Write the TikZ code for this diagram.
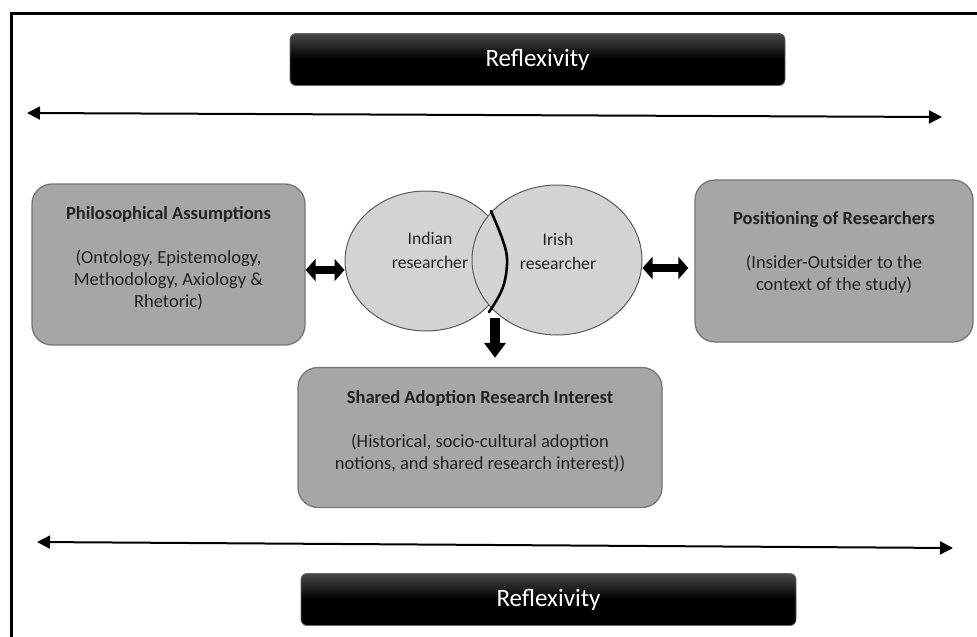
\documentclass[tikz,border=0pt]{standalone}
\usepackage{fontspec}
\setmainfont{Carlito}
\usetikzlibrary{arrows.meta,shapes.geometric,calc}
\definecolor{boxfill}{HTML}{A6A6A6}
\definecolor{boxline}{HTML}{767676}
\definecolor{vennfill}{HTML}{D3D3D3}
\definecolor{vennline}{HTML}{5A5A5A}
\definecolor{txt}{HTML}{222222}
\begin{document}
\begin{tikzpicture}[x=1pt,y=-1pt,
  reflbox/.style={rounded corners=6pt, draw=black!60, line width=0.8pt,
    top color=black!72, bottom color=black, middle color=black,
    minimum width=495pt, minimum height=52pt, inner sep=0pt,
    text=white, font=\fontsize{25}{30}\selectfont},
  graybox/.style={rounded corners=20pt, draw=boxline, line width=1.3pt, fill=boxfill, inner sep=0pt},
  boxtxt/.style={align=center, text=txt, font=\fontsize{18.5}{22}\selectfont, inner sep=0pt},
  venn/.style={ellipse, draw=vennline, line width=1pt, fill=vennfill, inner sep=0pt},
  venntxt/.style={align=center, text=txt, font=\fontsize{17.6}{24}\selectfont, inner sep=0pt},
  longarrow/.style={line width=2pt, {Triangle[length=13pt,width=13pt]}-{Triangle[length=13pt,width=13pt]}},
  blockdbl/.style={line width=7.5pt, {Triangle[length=10pt,width=22pt]}-{Triangle[length=10pt,width=22pt]}},
  blockdown/.style={line width=10pt, -{Triangle[length=15pt,width=21pt]}},
]
\useasboundingbox (0,0) rectangle (977,637);
% frame
\draw[line width=3pt, line join=miter] (11,660) -- (11,13) -- (1000,13);

% Reflexivity bars
\node[reflbox] (refltop) at (537.5,59.5) {Reflexivity};
\node[reflbox] (reflbot) at (548.5,599.5) {Reflexivity};

% long arrows
\coordinate (tl) at (27,113);
\coordinate (tr) at (942,117);
\draw[longarrow] (tl) -- (tr);
\coordinate (bl) at (37,542);
\coordinate (br) at (953,548);
\draw[longarrow] (bl) -- (br);

% gray boxes
\node[graybox, minimum width=273pt, minimum height=161pt] (phil) at (168.5,264.5) {};
\node[graybox, minimum width=278pt, minimum height=162pt] (posit) at (834,261) {};
\node[graybox, minimum width=364pt, minimum height=140pt] (shared) at (480,437.5) {};

\node[boxtxt] (philtxt) at ($(phil.center)+(0,-6)$)
  {\textbf{Philosophical Assumptions}\\[22pt](Ontology, Epistemology,\\Methodology, Axiology \&\\Rhetoric)};
\node[boxtxt] (posittxt) at ($(posit.center)+(0,-8.5)$)
  {\textbf{Positioning of Researchers}\\[22pt](Insider-Outsider to the\\context of the study)};
\node[boxtxt] (sharedtxt) at ($(shared.center)+(0,-6.5)$)
  {\textbf{Shared Adoption Research Interest}\\[22pt](Historical, socio-cultural adoption\\notions, and shared research interest))};

% Venn
\node[venn, minimum width=162pt, minimum height=140pt] (indian) at (426,261) {};
\node[venn, minimum width=170pt, minimum height=150pt] (irish) at (557,260) {};
\draw[line width=2.6pt, black, line cap=round]
  plot[smooth, tension=0.6] coordinates {(491,211) (502,238) (507,258) (505,280) (499,296) (489,312)};
\node[venntxt] (indiantxt) at (430,250) {Indian\\researcher};
\node[venntxt] (irishtxt) at (558,251) {Irish\\researcher};

% block arrows
\draw[blockdbl] ([yshift=-5.5pt]phil.east) -- ([yshift=-9pt]indian.west);
\draw[blockdbl, shorten >=6pt] ([yshift=-8pt]irish.east) -- ([yshift=-7pt]posit.west);
\coordinate (dstart) at (495,318);
\draw[blockdown, shorten >=9pt] (dstart) -- (dstart |- shared.north);
\end{tikzpicture}
\end{document}
